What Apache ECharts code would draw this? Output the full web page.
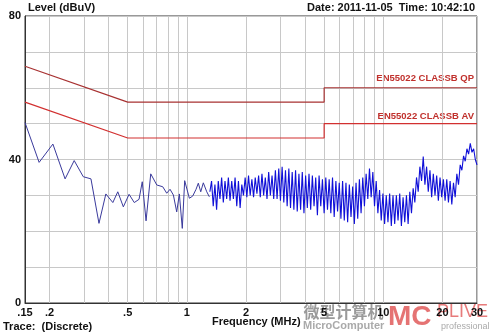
<!DOCTYPE html>
<html>
<head>
<meta charset="utf-8">
<script src="https://cdn.jsdelivr.net/npm/echarts@6/dist/echarts.min.js"></script>
<style>
html, body { margin: 0; padding: 0; background: #fff; }
#main { width: 500px; height: 333px; }
</style>
</head>
<body>
<div id="main"></div>
<script>
// x ticks / labels (MHz)
var gridFreqs = [0.2, 0.3, 0.4, 0.5, 0.6, 0.7, 0.8, 0.9, 1, 2, 3, 4, 5, 6, 7, 8, 9, 10, 20, 30];
var labelFreqs = [0.15, 0.2, 0.5, 1, 2, 5, 10, 20, 30];
var yLabels = [0, 40, 80];

// limit lines
var qpFreq = [0.15, 0.5, 5, 5, 30];
var qpLevel = [66, 56, 56, 60, 60];
var avFreq = [0.15, 0.5, 5, 5, 30];
var avLevel = [56, 46, 46, 50, 50];

// measured trace, low band (discrete points)
var lowFreq = [0.15, 0.177, 0.208, 0.24, 0.267, 0.297, 0.325, 0.357, 0.387, 0.42, 0.445,
  0.475, 0.508, 0.54, 0.571, 0.593, 0.62, 0.655, 0.703, 0.754, 0.79, 0.821, 0.854, 0.888,
  0.916, 0.948, 0.975, 1.03, 1.071, 1.114, 1.144, 1.177, 1.213, 1.263, 1.302];
var lowLevel = [50.3, 39.2, 44.3, 34.6, 39.7, 35.2, 34.6, 22.2, 30.4, 28.0, 31.0,
  26.8, 30.3, 28.0, 28.9, 33.8, 22.9, 36.0, 32.9, 32.4, 30.6, 31.7, 30.1, 25.4,
  30.4, 20.8, 34.1, 29.2, 29.8, 31.7, 33.4, 31.0, 33.5, 31.0, 29.6];

// measured trace, high band (sweep 1.31 - 30 MHz, log spaced)
var sweepStart = 1.31;
var sweepStop = 30;
var highLevel = [
  31, 34, 27, 33, 26, 34, 29, 35, 28, 34,
  29, 35, 28.5, 34, 29, 35, 27, 34, 26.5, 33,
  30, 35, 29.5, 35.5, 30, 34.5, 29.5, 35, 30.5, 35.5,
  29.5, 36, 30, 35, 29, 36.5, 30, 35.5, 29, 37,
  29, 37.5, 28.5, 38, 28, 37, 27, 37.5, 26.5, 36.5,
  26, 37, 25.5, 36, 26, 36.5, 25, 35.5, 26.5, 36,
  26, 35.5, 27, 35, 24.5, 35.5, 27, 34.5, 25, 35,
  26, 34.5, 25, 35, 24, 34, 25.5, 33.5, 23.5, 34,
  23, 33.5, 22.5, 33, 24, 32.5, 22, 33.5, 23.5, 34.5,
  25, 35, 27, 36, 29, 37.5, 29.5, 36.5, 27, 34,
  25, 31.5, 23, 30.5, 22, 30, 22.5, 30.5, 21.5, 30,
  22, 30, 23, 30.5, 21.5, 29.5, 22.5, 30, 22, 31,
  25, 32, 28, 35, 31, 38, 34, 40.8, 33, 38,
  31, 37, 29.5, 36, 30, 35.5, 28.5, 35, 29.5, 34.5,
  28.5, 34.5, 28, 34, 27.5, 33.5, 29.5, 36, 33, 38.5,
  37, 41, 39.5, 43, 41.5, 44.5, 42, 43, 40, 38.5
];

function lg(v) { return Math.log10(v); }
function pairs(fs, ls) {
  var out = [];
  for (var i = 0; i < fs.length; i++) out.push([lg(fs[i]), ls[i]]);
  return out;
}
var highData = [];
var a = lg(sweepStart), b = lg(sweepStop);
for (var i = 0; i < highLevel.length; i++) {
  highData.push([a + (b - a) * i / (highLevel.length - 1), highLevel[i]]);
}

function fmtFreq(v) {
  var f = Math.round(Math.pow(10, v) * 100) / 100;
  if (f < 1) return String(f).replace(/^0/, '');
  return String(f);
}

var FONT = 'Liberation Sans';
var myChart = echarts.init(document.getElementById('main'));
var option = {
  animation: false,
  backgroundColor: '#fff',
  grid: {
    left: 25, right: 23, top: 16, bottom: 30,
    containLabel: false, outerBoundsMode: 'none',
    show: true, borderColor: '#333', borderWidth: 1
  },
  xAxis: {
    type: 'value',
    min: lg(0.15), max: lg(30),
    axisLine: { show: true, onZero: false, lineStyle: { color: '#333', width: 1 } },
    axisTick: { show: false, customValues: gridFreqs.map(lg) },
    splitLine: { show: true, lineStyle: { color: '#c8c8c8', width: 1 } },
    axisLabel: {
      customValues: labelFreqs.map(lg),
      formatter: fmtFreq,
      margin: 4,
      showMinLabel: true, showMaxLabel: true,
      hideOverlap: false,
      fontFamily: FONT, fontWeight: 'bold', fontSize: 11, color: '#111'
    }
  },
  yAxis: {
    type: 'value',
    min: 0, max: 80, interval: 10,
    axisLine: { show: true, onZero: false, lineStyle: { color: '#333', width: 1 } },
    axisTick: { show: false },
    splitLine: { show: true, lineStyle: { color: '#c8c8c8', width: 1 } },
    axisLabel: {
      margin: 4,
      formatter: function (v) { return yLabels.indexOf(v) >= 0 ? String(v) : ''; },
      fontFamily: FONT, fontWeight: 'bold', fontSize: 11, color: '#111'
    }
  },
  series: [
    {
      name: 'QP', type: 'line', data: pairs(qpFreq, qpLevel),
      symbol: 'none', lineStyle: { color: '#a83232', width: 1.2 }, z: 3
    },
    {
      name: 'AV', type: 'line', data: pairs(avFreq, avLevel),
      symbol: 'none', lineStyle: { color: '#d23030', width: 1.2 }, z: 3
    },
    {
      name: 'traceLow', type: 'line', data: pairs(lowFreq, lowLevel),
      symbol: 'none', lineStyle: { color: '#3a3a9c', width: 1 }, z: 4
    },
    {
      name: 'traceHigh', type: 'line', data: highData,
      symbol: 'none', lineStyle: { color: '#1010d8', width: 1.1 }, z: 4
    }
  ],
  graphic: [
    { type: 'text', left: 28, top: 2, style: { text: 'Level (dBuV)', font: 'bold 11px "Liberation Sans"', fill: '#111' } },
    { type: 'text', right: 25, top: 2, style: { text: 'Date: 2011-11-05  Time: 10:42:10', font: 'bold 11px "Liberation Sans"', fill: '#111' } },
    { type: 'text', left: 212, top: 316, style: { text: 'Frequency (MHz)', font: 'bold 11px "Liberation Sans"', fill: '#111' } },
    { type: 'text', left: 3, top: 321, style: { text: 'Trace:  (Discrete)', font: 'bold 11px "Liberation Sans"', fill: '#111' } },
    { type: 'text', right: 26, top: 73, style: { text: 'EN55022 CLASSB QP', font: 'bold 9.5px "Liberation Sans"', fill: '#c0302c' } },
    { type: 'text', right: 26, top: 111, style: { text: 'EN55022 CLASSB AV', font: 'bold 9.5px "Liberation Sans"', fill: '#c0302c' } },
    { type: 'text', left: 303, top: 303, style: { text: '微型计算机', font: 'bold 16px "Noto Sans CJK SC"', fill: '#9a9a9a', stroke: '#fff', lineWidth: 1 } },
    { type: 'text', left: 303, top: 320, style: { text: 'MicroComputer', font: 'bold 11px "Liberation Sans"', fill: '#aaaaaa' } },
    { type: 'text', left: 388, top: 303, style: { text: 'MC', font: 'bold 28px "Liberation Sans"', fill: 'rgba(225,90,90,0.85)' } },
    { type: 'text', left: 437, top: 303, style: { text: 'PLIVE', font: '18px "Liberation Sans"', fill: 'rgba(225,90,90,0.8)' } },
    { type: 'text', left: 441, top: 322, style: { text: 'professional', font: '9px "Liberation Sans"', fill: '#aaaaaa' } }
  ]
};
myChart.setOption(option);
</script>
</body>
</html>
